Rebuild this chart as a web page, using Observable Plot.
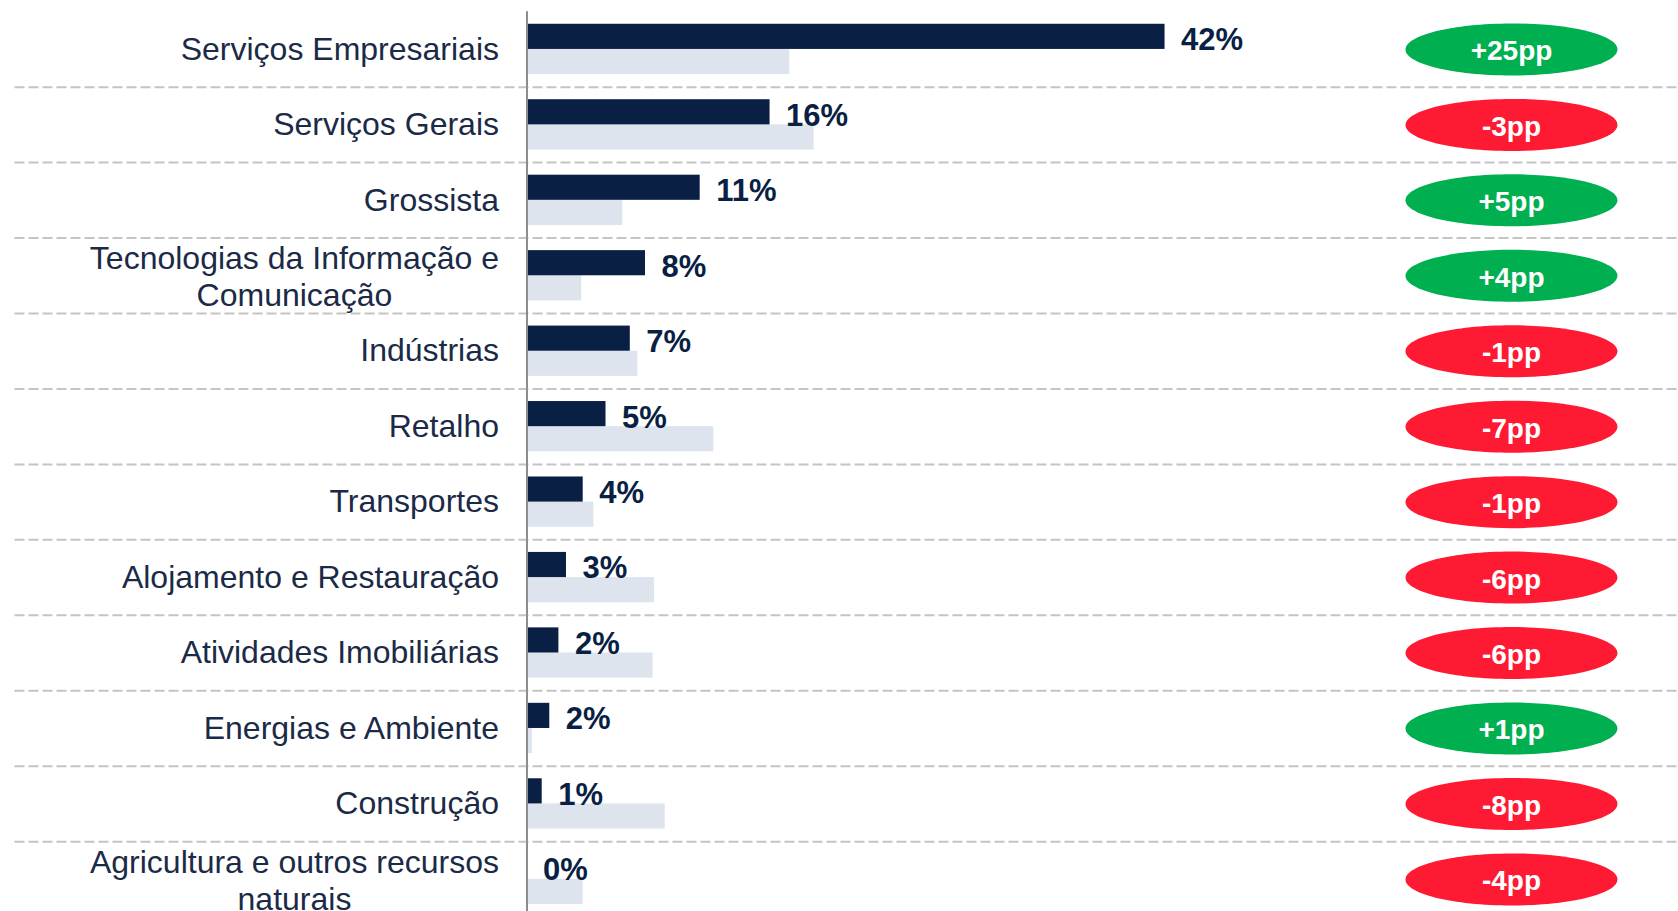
<!DOCTYPE html>
<html>
<head>
<meta charset="utf-8">
<script src="https://cdn.jsdelivr.net/npm/d3@7"></script>
<script src="https://cdn.jsdelivr.net/npm/@observablehq/plot@0.6"></script>
<style>
  html, body { margin: 0; padding: 0; background: #ffffff; overflow: hidden; }
  #chart { width: 1678px; height: 911px; overflow: hidden; }
  #chart svg { display: block; }
</style>
</head>
<body>
<div id="chart"></div>
<script>
// ---- Data ----
const categories = [
  "Serviços Empresariais",
  "Serviços Gerais",
  "Grossista",
  "Tecnologias da Informação e\nComunicação",
  "Indústrias",
  "Retalho",
  "Transportes",
  "Alojamento e Restauração",
  "Atividades Imobiliárias",
  "Energias e Ambiente",
  "Construção",
  "Agricultura e outros recursos\nnaturais"
];
const atual = [42, 16, 11.4, 7.8, 6.8, 5.2, 3.7, 2.6, 2.1, 1.5, 1.0, 0];
const anterior = [17.3, 18.9, 6.3, 3.6, 7.3, 12.3, 4.4, 8.4, 8.3, 0.35, 9.1, 3.7];
const atualLabels = ["42%", "16%", "11%", "8%", "7%", "5%", "4%", "3%", "2%", "2%", "1%", "0%"];
const variacao = [25, -3, 5, 4, -1, -7, -1, -6, -6, 1, -8, -4];

// ---- Tables built from the arrays ----
const rows = categories.map((c, i) => ({
  categoria: c,
  atual: atual[i],
  anterior: anterior[i],
  rotulo: atualLabels[i],
  variacao: variacao[i],
  pill: (variacao[i] > 0 ? "+" : "") + variacao[i] + "pp",
  sentido: variacao[i] > 0 ? "sobe" : "desce",
  serie: "atual"
}));
const barsAtual = rows.map(r => ({categoria: r.categoria, serie: "atual", valor: r.atual}));
const barsAnterior = rows.map(r => ({categoria: r.categoria, serie: "anterior", valor: r.anterior}));

// ---- Layout ----
const W = 1678;
const band = 75.45, topMargin = 11.2;
const H = Math.ceil(topMargin + band * categories.length); // last row runs past the 911px window, as in the reference
const labelFont = "Liberation Sans, Arial, sans-serif";
const labelSize = 32;
const labelColor = "#1b2a47";

// measure text for centered multi-line labels
const measureCtx = document.createElement("canvas").getContext("2d");
measureCtx.font = `${labelSize}px "Liberation Sans"`;
const single = rows.filter(r => !r.categoria.includes("\n"));
const multi = rows.filter(r => r.categoria.includes("\n"));

const ellipse = {
  draw(p) {
    const rx = 106, ry = 26, k = 0.5523;
    p.moveTo(rx, 0);
    p.bezierCurveTo(rx, ry * k, rx * k, ry, 0, ry);
    p.bezierCurveTo(-rx * k, ry, -rx, ry * k, -rx, 0);
    p.bezierCurveTo(-rx, -ry * k, -rx * k, -ry, 0, -ry);
    p.bezierCurveTo(rx * k, -ry, rx, -ry * k, rx, 0);
    p.closePath();
  }
};

const multiMarks = multi.map(r => {
  const w = d3.max(r.categoria.split("\n"), s => measureCtx.measureText(s).width);
  return Plot.text([r], {
    fy: "categoria", x: 0, text: "categoria",
    textAnchor: "middle", dx: -(28 + w / 2), lineHeight: 1.15,
    fontSize: labelSize, fontFamily: labelFont, fill: labelColor
  });
});

const chart = Plot.plot({
  width: W,
  height: H,
  marginTop: topMargin,
  marginBottom: H - topMargin - band * categories.length,
  marginLeft: 15,
  marginRight: 0,
  style: {background: "#ffffff"},
  x: {domain: [0, 75.8], range: [526.5, W], axis: null},
  y: {domain: ["atual", "anterior"], paddingInner: 0, paddingOuter: 0.5, round: false, axis: null},
  fy: {domain: categories, padding: 0, round: false, axis: null},
  color: {domain: ["sobe", "desce"], range: ["#00b050", "#ff1a33"]},
  marks: [
    Plot.frame({anchor: "bottom", stroke: "#c4c4c4", strokeWidth: 2, strokeDasharray: "8,6"}),
    Plot.barX(barsAnterior, {fy: "categoria", y: "serie", x: "valor", fill: "#dde4ed"}),
    Plot.barX(barsAtual, {fy: "categoria", y: "serie", x: "valor", fill: "#0a1f44"}),
    Plot.ruleX([0], {stroke: "#8c8c8c", strokeWidth: 2}),
    Plot.text(rows, {
      fy: "categoria", y: "serie", x: "atual", text: "rotulo",
      textAnchor: "start", dx: 16, dy: 3.5,
      fontSize: 31, fontWeight: "bold", fontFamily: labelFont, fill: "#0a1f44"
    }),
    Plot.text(single, {
      fy: "categoria", x: 0, text: "categoria",
      textAnchor: "end", dx: -28,
      fontSize: labelSize, fontFamily: labelFont, fill: labelColor
    }),
    ...multiMarks,
    Plot.dot(rows, {
      fy: "categoria", frameAnchor: "right", dx: -167,
      symbol: ellipse, fill: "sentido"
    }),
    Plot.text(rows, {
      fy: "categoria", frameAnchor: "right", dx: -167, dy: 2,
      text: "pill", textAnchor: "middle",
      fontSize: 28, fontWeight: "bold", fontFamily: labelFont, fill: "#ffffff"
    })
  ]
});

document.getElementById("chart").appendChild(chart);
</script>
</body>
</html>
